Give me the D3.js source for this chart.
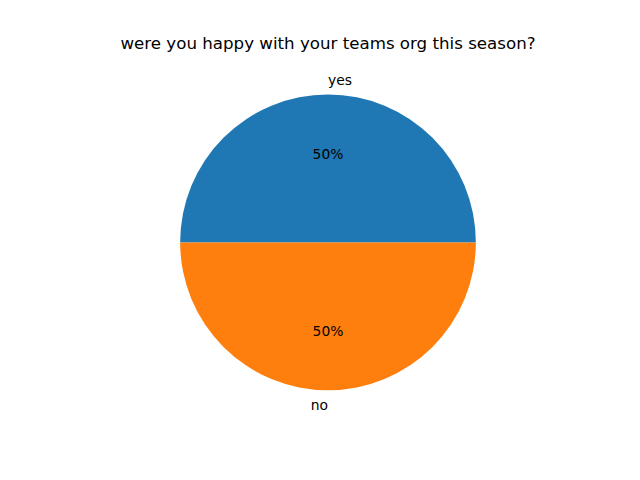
<!DOCTYPE html>
<html>
<head>
<meta charset="utf-8">
<script src="https://cdn.jsdelivr.net/npm/d3@7"></script>
<style>
  html, body { margin: 0; padding: 0; background: #fff; }
  svg { display: block; font-family: "DejaVu Sans", sans-serif; }
</style>
</head>
<body>
<svg id="chart" width="640" height="480"></svg>
<script>
const title = "were you happy with your teams org this season?";
const categories = ["yes", "no"];
const values = [50, 50];
const colors = ["#1f77b4", "#ff7f0e"];

const W = 640, H = 480;
const cx = 80 + (576 - 80) / 2;
const axTop = 480 * 0.12, axBottom = 480 * 0.89;
const cy = (axTop + axBottom) / 2;
const r = (axBottom - axTop) / 2.5;

const svg = d3.select("#chart");
svg.append("rect").attr("width", W).attr("height", H).attr("fill", "#fff");

svg.append("text")
  .attr("x", cx).attr("y", axTop - 8.33)
  .attr("text-anchor", "middle")
  .attr("font-size", 16.67)
  .text(title);

const data = categories.map((c, i) => ({ label: c, value: values[i], color: colors[i] }));

const pie = d3.pie().sort(null).value(d => d.value)
  .startAngle(Math.PI / 2).endAngle(Math.PI / 2 - 2 * Math.PI);
const arcs = pie(data);
const arc = d3.arc().innerRadius(0).outerRadius(r);

const g = svg.append("g").attr("transform", `translate(${cx},${cy})`);
g.selectAll("path").data(arcs).enter().append("path")
  .attr("d", arc).attr("fill", d => d.data.color);

const total = d3.sum(values);
let acc = 0;
arcs.forEach(a => {
  // matplotlib-style angle (counterclockwise from 3 o'clock)
  const theta = 2 * Math.PI * (acc + a.data.value / 2) / total;
  acc += a.data.value;
  const xc = Math.cos(theta), yc = Math.sin(theta);
  g.append("text")
    .attr("x", 1.1 * r * xc).attr("y", -1.1 * r * yc)
    .attr("text-anchor", xc > 0 ? "start" : "end")
    .attr("dominant-baseline", "central")
    .attr("font-size", 13.89)
    .text(a.data.label);
  g.append("text")
    .attr("x", 0.6 * r * xc).attr("y", -0.6 * r * yc)
    .attr("text-anchor", "middle")
    .attr("dominant-baseline", "central")
    .attr("font-size", 13.89)
    .text(Math.round(a.data.value / total * 100) + "%");
});
</script>
</body>
</html>
